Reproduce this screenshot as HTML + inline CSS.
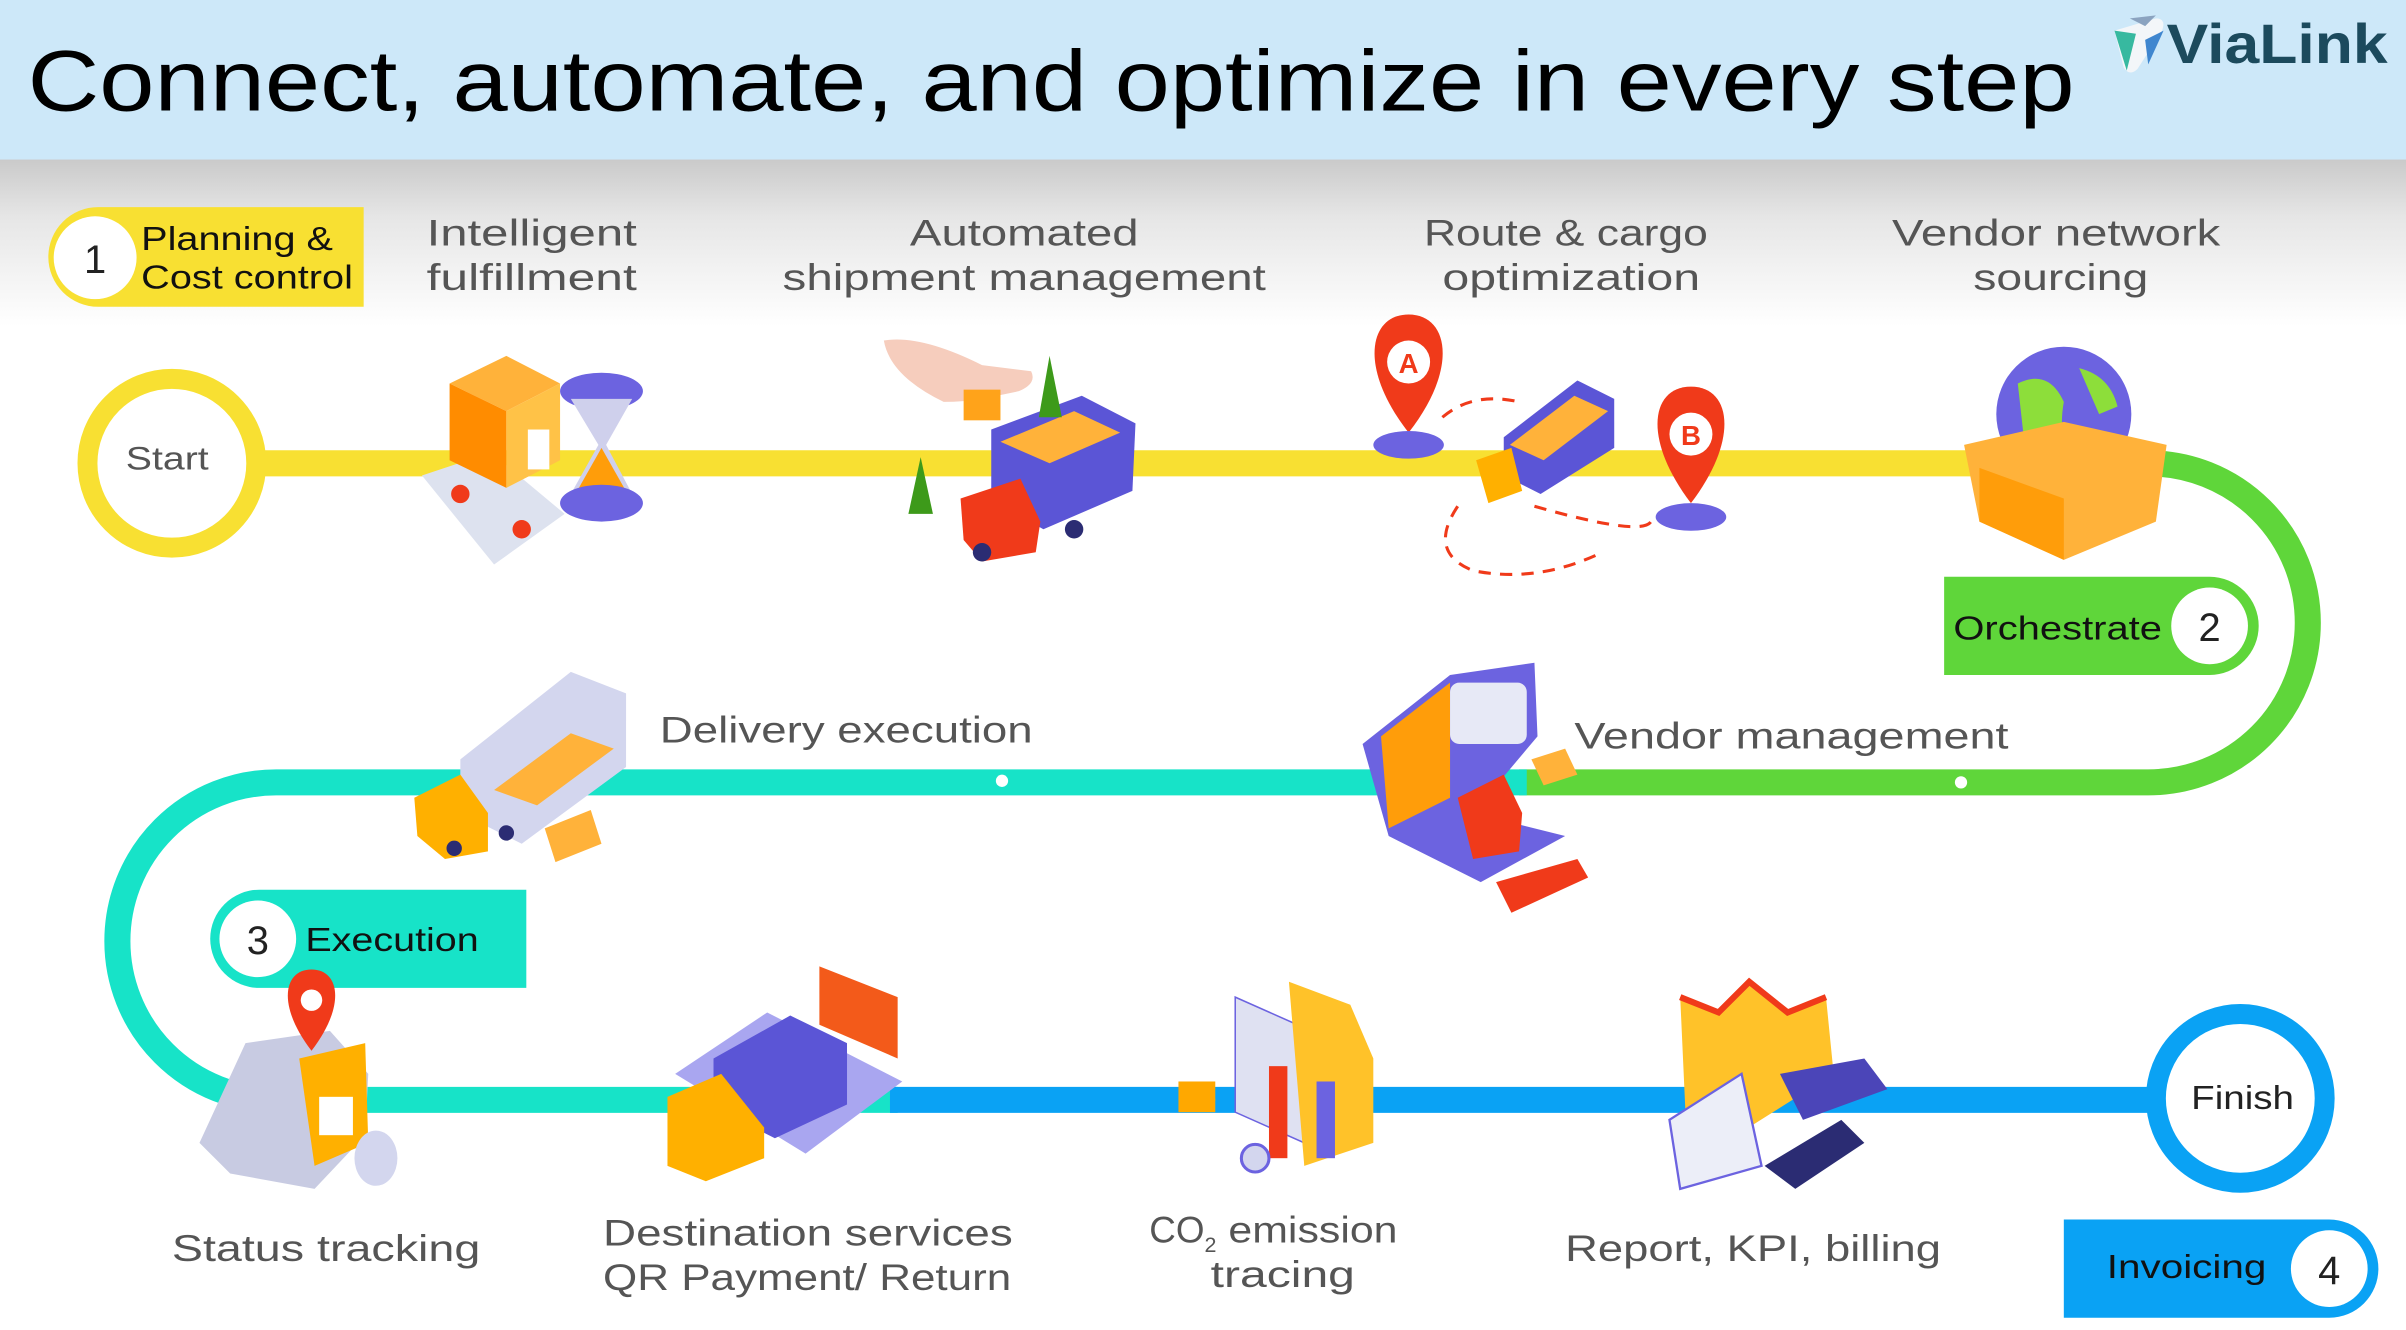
<!DOCTYPE html>
<html><head><meta charset="utf-8"><style>
html,body{margin:0;padding:0;background:#fff;}
svg{display:block;}
text{font-family:"Liberation Sans",sans-serif;}
</style></head><body>
<svg width="2406" height="1330" viewBox="0 0 1568 867" preserveAspectRatio="none" xmlns="http://www.w3.org/2000/svg">
<defs>
<linearGradient id="sh" x1="0" y1="0" x2="0" y2="1">
<stop offset="0" stop-color="#c9c9c9"/><stop offset="0.35" stop-color="#e6e6e6"/><stop offset="1" stop-color="#ffffff"/>
</linearGradient>
</defs>
<rect x="0" y="0" width="1568" height="867" fill="#fff"/>
<rect x="0" y="103" width="1568" height="110" fill="url(#sh)"/>
<rect x="0" y="0" width="1568" height="104" fill="#cde8f9"/>
<text x="18" y="72" font-size="56" fill="#000" textLength="1334" lengthAdjust="spacingAndGlyphs">Connect, automate, and optimize in every step</text>
<g>
<path d="M1378 20 L1405 12 Q1412 12 1409 20 L1393 45 Q1388 50 1384 44 Z" fill="#f3f6f9"/>
<path d="M1378 20 L1392 22 L1386 46 Z" fill="#37b9a0"/>
<path d="M1398 26 L1410 20 L1400 42 Z" fill="#3f86cf"/>
<path d="M1388 12 L1405 10 L1398 17 Z" fill="#8ba3c0"/>
<text x="1412" y="41" font-size="36" font-weight="bold" fill="#1c4a5d" textLength="144" lengthAdjust="spacingAndGlyphs">ViaLink</text>
</g>

<line x1="165" y1="302" x2="1405" y2="302" stroke="#f8e032" stroke-width="17"/>
<path d="M1400 302 A104 104 0 0 1 1400 510 L990 510" fill="none" stroke="#5fd63a" stroke-width="17"/>
<path d="M995 510 L180 510 A103.5 103.5 0 0 0 180 717 L585 717" fill="none" stroke="#17e3c8" stroke-width="17"/>
<line x1="580" y1="717" x2="1405" y2="717" stroke="#0aa2f4" stroke-width="17"/>
<circle cx="653" cy="509" r="4" fill="#fff"/>
<circle cx="1278" cy="510" r="4" fill="#fff"/>

<circle cx="112" cy="302" r="55" fill="#fff" stroke="#f8e032" stroke-width="13"/>
<text x="82" y="306" font-size="21" fill="#555" textLength="54" lengthAdjust="spacingAndGlyphs">Start</text>
<circle cx="1460" cy="716" r="55" fill="#fff" stroke="#0aa2f4" stroke-width="13"/>
<text x="1428" y="723" font-size="22" fill="#222" textLength="67" lengthAdjust="spacingAndGlyphs">Finish</text>

<path d="M64 135 L237 135 L237 200 L64 200 A32.5 32.5 0 0 1 64 135 Z" fill="#f8e032"/>
<circle cx="62" cy="168" r="27" fill="#fff"/>
<text x="62" y="178" font-size="26" fill="#222" text-anchor="middle">1</text>
<text x="92" y="163" font-size="22" fill="#111" textLength="125" lengthAdjust="spacingAndGlyphs">Planning &amp;</text>
<text x="92" y="188" font-size="22" fill="#111" textLength="138" lengthAdjust="spacingAndGlyphs">Cost control</text>

<path d="M1267 376 L1440 376 A32 32 0 0 1 1440 440 L1267 440 Z" fill="#5fd63a"/>
<circle cx="1440" cy="408" r="25" fill="#fff"/>
<text x="1440" y="418" font-size="26" fill="#222" text-anchor="middle">2</text>
<text x="1273" y="417" font-size="22" fill="#111" textLength="136" lengthAdjust="spacingAndGlyphs">Orchestrate</text>

<path d="M169 580 L343 580 L343 644 L169 644 A32 32 0 0 1 169 580 Z" fill="#17e3c8"/>
<circle cx="168" cy="612" r="25" fill="#fff"/>
<text x="168" y="622" font-size="26" fill="#222" text-anchor="middle">3</text>
<text x="199" y="620" font-size="22" fill="#111" textLength="113" lengthAdjust="spacingAndGlyphs">Execution</text>

<path d="M1345 795 L1518 795 A32 32 0 0 1 1518 859 L1345 859 Z" fill="#0aa2f4"/>
<circle cx="1518" cy="827" r="25" fill="#fff"/>
<text x="1518" y="837" font-size="26" fill="#222" text-anchor="middle">4</text>
<text x="1373" y="833" font-size="22" fill="#111" textLength="104" lengthAdjust="spacingAndGlyphs">Invoicing</text>

<g font-size="24" fill="#555" lengthAdjust="spacingAndGlyphs">
<text x="278" y="160" textLength="137" lengthAdjust="spacingAndGlyphs">Intelligent</text><text x="278" y="189" textLength="137" lengthAdjust="spacingAndGlyphs">fulfillment</text>
<text x="593" y="160" textLength="149" lengthAdjust="spacingAndGlyphs">Automated</text><text x="510" y="189" textLength="315" lengthAdjust="spacingAndGlyphs">shipment management</text>
<text x="928" y="160" textLength="185" lengthAdjust="spacingAndGlyphs">Route &amp; cargo</text><text x="940" y="189" textLength="168" lengthAdjust="spacingAndGlyphs">optimization</text>
<text x="1233" y="160" textLength="214" lengthAdjust="spacingAndGlyphs">Vendor network</text><text x="1286" y="189" textLength="114" lengthAdjust="spacingAndGlyphs">sourcing</text>
<text x="112" y="822" textLength="201" lengthAdjust="spacingAndGlyphs">Status tracking</text>
<text x="393" y="812" textLength="267" lengthAdjust="spacingAndGlyphs">Destination services</text><text x="393" y="841" textLength="266" lengthAdjust="spacingAndGlyphs">QR Payment/ Return</text>
<text x="749" y="810">CO<tspan font-size="14" dy="6">2</tspan><tspan dy="-6" textLength="118" lengthAdjust="spacingAndGlyphs"> emission</tspan></text><text x="789" y="839" textLength="94" lengthAdjust="spacingAndGlyphs">tracing</text>
<text x="1020" y="822" textLength="245" lengthAdjust="spacingAndGlyphs">Report, KPI, billing</text>
<text x="430" y="484" textLength="243" lengthAdjust="spacingAndGlyphs">Delivery execution</text>
<text x="1026" y="488" textLength="283" lengthAdjust="spacingAndGlyphs">Vendor management</text>
</g>

<polygon points="275,310 320,295 368,335 322,368" fill="#dde2ef"/>
<polygon points="293,250 330,232 365,250 330,268" fill="#ffb23a"/>
<polygon points="293,250 330,268 330,318 293,300" fill="#ff8c00"/>
<polygon points="330,268 365,250 365,300 330,318" fill="#ffc247"/>
<rect x="344" y="280" width="14" height="26" fill="#fff"/>
<ellipse cx="392" cy="255" rx="27" ry="12" fill="#6c63e0"/>
<polygon points="372,260 412,260 395,290 412,322 372,322 390,290" fill="#cfd0ec"/>
<polygon points="375,322 409,322 392,292" fill="#ff9d0a"/>
<ellipse cx="392" cy="328" rx="27" ry="12" fill="#6c63e0"/>
<circle cx="300" cy="322" r="6" fill="#f03a1a"/><circle cx="340" cy="345" r="6" fill="#f03a1a"/>
<path d="M576 222 Q600 218 640 238 L672 242 Q676 250 664 255 L640 260 Q628 262 615 262 Q580 245 576 222 Z" fill="#f6cdbd"/>
<rect x="628" y="254" width="24" height="20" fill="#ffa31a"/>
<polygon points="646,280 705,258 740,276 738,320 680,345 646,326" fill="#5b55d6"/>
<polygon points="652,288 700,268 730,282 684,302" fill="#ffb23a"/>
<polygon points="626,325 665,312 678,340 675,360 640,366 628,352" fill="#f03a1a"/>
<circle cx="640" cy="360" r="6" fill="#2b2c73"/><circle cx="700" cy="345" r="6" fill="#2b2c73"/>
<polygon points="600,298 592,335 608,335" fill="#3d9a1a"/>
<polygon points="684,232 677,272 692,272" fill="#3d9a1a"/>
<path d="M918 205 C892 205 885 240 918 282 C951 240 944 205 918 205 Z" fill="#f03a1a"/>
<circle cx="918" cy="236" r="14" fill="#fff"/><text x="918" y="243" font-size="18" fill="#f03a1a" text-anchor="middle" font-weight="bold">A</text>
<ellipse cx="918" cy="290" rx="23" ry="9" fill="#6c63e0"/>
<path d="M1102 252 C1076 252 1070 286 1102 328 C1134 286 1128 252 1102 252 Z" fill="#f03a1a"/>
<circle cx="1102" cy="283" r="14" fill="#fff"/><text x="1102" y="290" font-size="18" fill="#f03a1a" text-anchor="middle" font-weight="bold">B</text>
<ellipse cx="1102" cy="337" rx="23" ry="9" fill="#6c63e0"/>
<polygon points="980,285 1028,248 1052,260 1052,292 1004,322 980,310" fill="#5b55d6"/>
<polygon points="984,290 1026,258 1048,268 1006,300" fill="#ffb23a"/>
<polygon points="962,300 985,292 992,320 970,328" fill="#ffb000"/>
<path d="M940 272 Q960 255 990 262 M1000 330 Q1070 350 1076 340 M950 330 Q930 360 960 372 Q1000 380 1040 362" fill="none" stroke="#f03a1a" stroke-width="2" stroke-dasharray="8 6"/>
<circle cx="1345" cy="270" r="44" fill="#6c63e0"/>
<path d="M1315 250 Q1335 240 1345 262 Q1340 290 1355 305 Q1335 310 1320 295 Z" fill="#8dde3a"/>
<path d="M1355 240 Q1375 245 1380 265 L1368 270 Z" fill="#8dde3a"/>
<polygon points="1280,290 1345,275 1412,290 1405,340 1345,365 1290,340" fill="#ffb23a"/>
<polygon points="1290,305 1345,325 1345,365 1290,340" fill="#ff9d0a"/>
<polygon points="300,495 372,438 408,452 408,500 340,550 300,530" fill="#d3d6ee"/>
<polygon points="322,515 372,478 400,488 350,525" fill="#ffb23a"/>
<polygon points="270,520 300,505 318,530 318,555 290,560 272,545" fill="#ffb000"/>
<polygon points="355,540 385,528 392,550 362,562" fill="#ffb23a"/>
<circle cx="296" cy="553" r="5" fill="#2b2c73"/><circle cx="330" cy="543" r="5" fill="#2b2c73"/>
<polygon points="888,485 945,440 1000,432 1002,480 960,530 1020,545 965,575 905,545" fill="#6c63e0"/>
<polygon points="900,480 945,445 945,520 905,540" fill="#ff9d0a"/>
<rect x="945" y="445" width="50" height="40" rx="6" fill="#e7e9f6"/>
<polygon points="950,520 980,505 992,530 990,555 960,560" fill="#f03a1a"/>
<polygon points="975,575 1028,560 1035,572 985,595" fill="#f03a1a"/>
<polygon points="998,495 1020,488 1028,505 1006,512" fill="#ffb23a"/>
<polygon points="130,745 160,680 215,672 240,700 238,740 205,775 150,765" fill="#c8cbe2"/>
<polygon points="195,690 238,680 240,745 205,760" fill="#ffb000"/>
<rect x="208" y="715" width="22" height="25" fill="#fff"/>
<path d="M203 632 C185 632 180 655 203 685 C226 655 221 632 203 632 Z" fill="#f03a1a"/>
<circle cx="203" cy="652" r="7" fill="#fff"/>
<ellipse cx="245" cy="755" rx="14" ry="18" fill="#d3d6ee"/>
<polygon points="440,700 500,660 588,705 525,752" fill="#a9a6f0"/>
<polygon points="465,690 515,662 552,680 552,720 505,742 465,722" fill="#5b55d6"/>
<polygon points="534,630 585,650 585,690 534,668" fill="#f35a1a"/>
<polygon points="435,715 470,700 498,735 498,755 460,770 435,760" fill="#ffb000"/>
<polygon points="805,650 850,670 850,745 805,725" fill="#dfe1f2" stroke="#6c63e0" stroke-width="1"/>
<polygon points="840,640 880,655 895,690 895,745 850,760 845,700" fill="#ffc229"/>
<rect x="827" y="695" width="12" height="60" fill="#f03a1a"/><rect x="858" y="705" width="12" height="50" fill="#6c63e0"/>
<ellipse cx="780" cy="717" rx="12" ry="7" fill="#ffb000"/><rect x="768" y="705" width="24" height="20" fill="#ffa800"/>
<circle cx="818" cy="755" r="9" fill="#d3d6ee" stroke="#6c63e0" stroke-width="2"/>
<polygon points="1095,650 1120,660 1140,640 1165,660 1190,650 1195,700 1100,760" fill="#ffc229"/>
<path d="M1095 650 L1120 660 L1140 640 L1165 660 L1190 650" fill="none" stroke="#f03a1a" stroke-width="4"/>
<polygon points="1088,730 1135,700 1148,760 1095,775" fill="#eceef8" stroke="#6c63e0" stroke-width="1.5"/>
<polygon points="1160,700 1215,690 1230,710 1175,730" fill="#4b45b8"/>
<polygon points="1150,760 1200,730 1215,745 1170,775" fill="#2b2c73"/>
</svg>
</body></html>
